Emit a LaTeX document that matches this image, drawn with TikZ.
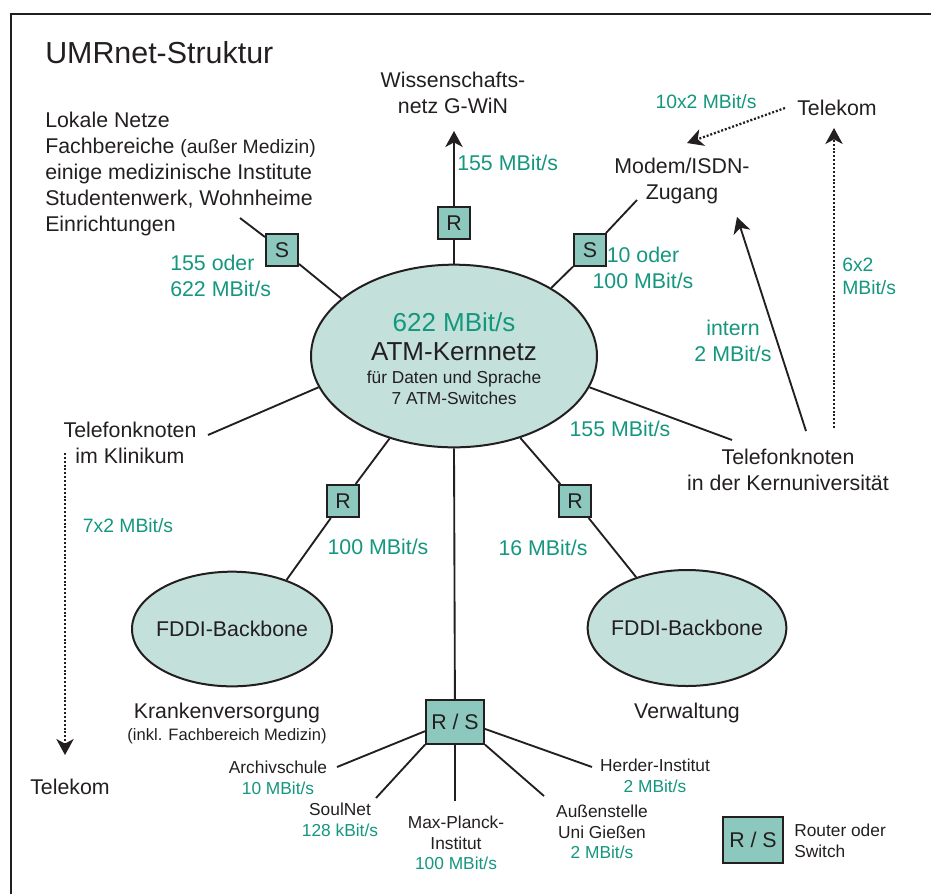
\documentclass[tikz,border=0pt]{standalone}
\usepackage{fontspec}
\setmainfont{Liberation Sans}
\usetikzlibrary{shapes.geometric,arrows.meta}
\definecolor{umrteal}{HTML}{14967F}
\definecolor{umrbox}{HTML}{8CC8BE}
\definecolor{umrnet}{HTML}{C3E1DA}
\definecolor{umrline}{HTML}{231F20}
\tikzset{
  lbl/.style={font=\fontsize{16}{19.5}\selectfont,align=center,inner sep=0,text=umrline},
  sml/.style={font=\fontsize{13}{15.5}\selectfont,align=center,inner sep=0,text=umrline},
  rate/.style={lbl,text=umrteal},
  srate/.style={font=\fontsize{14.5}{17}\selectfont,align=center,inner sep=0,text=umrteal},
  sw/.style={draw=umrline,fill=umrbox,line width=1.5pt,minimum size=24pt,inner sep=0,
    font=\fontsize{16}{19}\selectfont,text=umrline},
  net/.style={ellipse,draw=umrline,fill=umrnet,line width=1.5pt,inner sep=0},
  link/.style={draw=umrline,line width=1.4pt},
  arr/.style={link,-{Stealth[length=12pt,width=13pt,inset=3.5pt]}},
  dotarr/.style={arr,line width=1.7pt,dash pattern=on 1.5pt off 1.4pt}
}
\begin{document}
\begin{tikzpicture}[x=0.75pt,y=-0.75pt]
  \useasboundingbox (0,0) rectangle (931,894);
  \draw[umrline,line width=1.5pt] (11,894) -- (11,14) -- (931,14);

  % networks
  \node[net,minimum width=214.5pt,minimum height=137pt] (atm) at (454,356) {};
  \node[net,minimum width=150pt,minimum height=86pt] (fddiL) at (232,629) {};
  \node[net,minimum width=149pt,minimum height=87pt] (fddiR) at (687,628) {};
  \node[lbl,font=\fontsize{19.5}{22}\selectfont,text=umrteal] (atmRate) at (454,322) {622 MBit/s};
  \node[lbl,font=\fontsize{19.5}{22}\selectfont] (atmName) at (454,352) {ATM-Kernnetz};
  \node[sml] (atmInfo) at (454,388) {für Daten und Sprache\\7 ATM-Switches};
  \node[lbl] (fddiLName) at (fddiL) {FDDI-Backbone};
  \node[lbl] (fddiRName) at (fddiR) {FDDI-Backbone};

  % router / switches
  \node[sw] (rTop) at (454,223) {R};
  \node[sw] (sLeft) at (282,250) {S};
  \node[sw] (sRight) at (590,250) {S};
  \node[sw] (rLeft) at (343,501) {R};
  \node[sw] (rRight) at (575,501) {R};
  \node[sw,minimum width=43.5pt,minimum height=32.5pt] (rs) at (455,722) {R / S};
  \node[sw,minimum width=45pt,minimum height=34.5pt] (legend) at (753,840) {R / S};
  \node[sml,align=left,anchor=west] (legendTxt) at (794,841) {Router oder\\Switch};

  % labels
  \node[lbl,font=\fontsize{22.8}{26}\selectfont,anchor=west] (title) at (45,53) {UMRnet-Struktur};
  \node[lbl,align=left,anchor=west] (lokal) at (45,174)
    {Lokale Netze\\Fachbereiche {\fontsize{14.5}{19.5}\selectfont(außer Medizin)}\\einige medizinische Institute\\Studentenwerk, Wohnheime\\Einrichtungen};
  \node[lbl] (win) at (453,93) {Wissenschafts-\\netz G-WiN};
  \node[lbl] (modem) at (682,181) {Modem/ISDN-\\Zugang};
  \node[lbl] (telekomTop) at (837,108) {Telekom};
  \node[lbl] (telekomBot) at (70,787) {Telekom};
  \node[lbl] (telUni) at (788,470) {Telefonknoten\\in der Kernuniversität};
  \node[lbl] (telKlinik) at (130,443) {Telefonknoten\\im Klinikum};
  \node[lbl] (kranken) at (227,723) {Krankenversorgung\\[-3pt]{\fontsize{12.4}{15}\selectfont(inkl. Fachbereich Medizin)}};
  \node[lbl] (verw) at (687,713) {Verwaltung};

  % rates
  \node[rate,align=left,anchor=west] (rateLokal) at (170,276) {155 oder\\622 MBit/s};
  \node[rate,anchor=west] (rateWin) at (457,163) {155 MBit/s};
  \node[rate] (rateModem) at (643,268) {10 oder\\100 MBit/s};
  \node[srate] (rateTelTop) at (706,102) {10x2 MBit/s};
  \node[srate,align=left,anchor=west] (rateTelUni) at (842,276) {6x2\\MBit/s};
  \node[rate] (rateIntern) at (733,341) {intern\\2 MBit/s};
  \node[rate] (rateUni) at (620,429) {155 MBit/s};
  \node[srate] (rateKlinik) at (128,526) {7x2 MBit/s};
  \node[rate] (rateKranken) at (378,547) {100 MBit/s};
  \node[rate] (rateVerw) at (543,548) {16 MBit/s};

  % outer institutes
  \node[sml] (archiv) at (278,778) {Archivschule\\\textcolor{umrteal}{10 MBit/s}};
  \node[sml] (soulnet) at (340,820) {SoulNet\\\textcolor{umrteal}{128 kBit/s}};
  \node[sml] (mpi) at (456,843) {Max-Planck-\\Institut\\\textcolor{umrteal}{100 MBit/s}};
  \node[sml] (giessen) at (602,832) {Außenstelle\\Uni Gießen\\\textcolor{umrteal}{2 MBit/s}};
  \node[sml] (herder) at (655,776) {Herder-Institut\\\textcolor{umrteal}{2 MBit/s}};

  % free ends
  \coordinate (lokalEnd) at (240,218);
  \coordinate (winEnd) at (454,131);
  \coordinate (modemEnd) at (637,200);
  \coordinate (modemIn) at (687,143);
  \coordinate (modemUp) at (737,217);
  \coordinate (telTopOut) at (785,108);
  \coordinate (telTopIn) at (834,128);
  \coordinate (telUniUp) at (834,428);
  \coordinate (telUniArr) at (806,431);
  \coordinate (telUniEnd) at (732,440);
  \coordinate (klinikEnd) at (208,435);
  \coordinate (klinikDown) at (65,453);
  \coordinate (klinikTel) at (65,755);
  \coordinate (archivEnd) at (337,767);
  \coordinate (soulEnd) at (376,798);
  \coordinate (mpiEnd) at (455,801);
  \coordinate (giessenEnd) at (544,796);
  \coordinate (herderEnd) at (592,767);

  % connections
  \draw[link] (atm.153) -- (sLeft) -- (lokalEnd);
  \draw[link] (atm.north) -- (rTop);
  \draw[arr] (rTop) -- (winEnd);
  \draw[link] (atm.35) -- (sRight) -- (modemEnd);
  \draw[link] (atm.193) -- (klinikEnd);
  \draw[link] (atm.-13) -- (telUniEnd);
  \draw[link] (atm.232) -- (rLeft) -- (fddiL.42);
  \draw[link] (atm.-51) -- (rRight) -- (fddiR.135);
  \draw[link] (atm.south) -- (rs);
  \draw[arr] (telUniArr) -- (modemUp);
  \draw[dotarr] (telTopOut) -- (modemIn);
  \draw[dotarr] (telUniUp) -- (telTopIn);
  \draw[dotarr] (klinikDown) -- (klinikTel);
  \foreach \from/\to in {rs.197/archivEnd,rs.south west/soulEnd,rs.south/mpiEnd,rs.south east/giessenEnd,rs.-13/herderEnd}
    \draw[link] (\from) -- (\to);
\end{tikzpicture}
\end{document}
